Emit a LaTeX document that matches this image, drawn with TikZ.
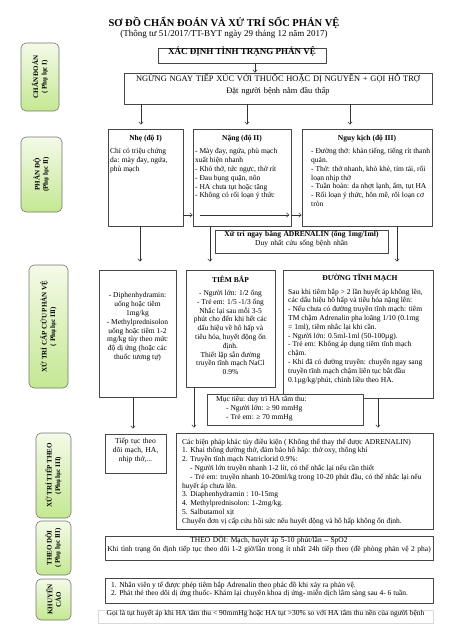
\documentclass[tikz,border=0pt]{standalone}
\usepackage{fontspec}
\setmainfont{Liberation Serif}
\usetikzlibrary{fit,shadows,arrows.meta}
\definecolor{tagtop}{RGB}{244,250,232}
\definecolor{tagbot}{RGB}{196,232,146}
\definecolor{rim}{RGB}{70,70,70}
\newcommand{\fs}[2]{\fontsize{#1}{#2}\selectfont}
\begin{document}
\begin{tikzpicture}[x=1pt, y=-1pt, line join=round, >={Straight Barb[length=2.6pt,width=4.4pt]},
    box/.style={draw=rim, fill=white, line width=.6pt, inner sep=0pt, drop shadow={shadow xshift=1.3pt, shadow yshift=-1.3pt, opacity=.35}},
    tag/.style={draw=black!55, line width=.6pt, rounded corners=5pt, top color=tagtop, bottom color=tagbot, inner sep=0pt},
    tagtxt/.style={rotate=90, align=center, inner sep=0pt, font=\fs{7}{8.4}\bfseries},
    txt/.style={inner sep=0pt, font=\fs{7.5}{8.8}},
    hd/.style={inner sep=0pt, font=\fs{7.5}{8.8}\bfseries},
    arr/.style={->, draw=black!80, line width=.5pt}]
  \useasboundingbox (0,0) rectangle (452,640);
  % title
  \node[font=\fs{10.5}{12}\bfseries] (title) at (224,23) {SƠ ĐỒ CHẨN ĐOÁN VÀ XỬ TRÍ SỐC PHẢN VỆ};
  \node[font=\fs{9}{10}] (sub) at (224,34.5) {(Thông tư 51/2017/TT-BYT ngày 29 tháng 12 năm 2017)};
  % left tags
  \foreach \n/\xa/\ya/\xb/\yb/\t in {
      diag/21/43/59/111/{CHẨN ĐOÁN\\( Phụ lục I)},
      grade/21/137/62/212/{PHÂN ĐỘ\\(Phụ lục II)},
      first/29/265/68/388/{XỬ TRÍ CẤP CỨU PHẢN VỆ\\( Phụ lục III)},
      next/36/433/71/518/{XỬ TRÍ TIẾP THEO\\(Phụ lục III)},
      watch/36/521/71/575/{THEO DÕI\\( Phụ lục III)},
      advice/36/579/71/620/{KHUYẾN\\CÁO}}
  {\node[tag, fit={(\xa,\ya) (\xb,\yb)}] (\n) {};
   \node[tagtxt] (\n-t) at (\n.center) {\t};}
  % diagnosis
  \node[box, fit={(158,48) (326,63)}, font=\fs{9}{10}\bfseries] (ident) {XÁC ĐỊNH TÌNH TRẠNG PHẢN VỆ};
  \node[box, fit={(124,73) (432,104)}, align=center, font=\fs{8.4}{11.5}] (stop) {NGỪNG NGAY TIẾP XÚC VỚI THUỐC HOẶC DỊ NGUYÊN + GỌI HỖ TRỢ\\Đặt người bệnh nằm đầu thấp};
  % grades
  \node[box, fit={(108,129) (183,226)}] (nhe) {};
  \node[box, fit={(193,129) (291,226)}] (nang) {};
  \node[box, fit={(302,129) (432,226)}] (nguy) {};
  \node[hd] (nhe-h) at (145.5,139) {Nhẹ (độ I)};
  \node[hd] (nang-h) at (242,139) {Nặng (độ II)};
  \node[hd] (nguy-h) at (367,138.5) {Nguy kịch (độ III)};
  \node[txt, anchor=north west, align=left] (nhe-t) at (110,148.5) {Chỉ có triệu chứng\\da: mày đay, ngứa,\\phù mạch};
  \node[txt, anchor=north west, align=left] (nang-t) at (195,148.5) {- Mày đay, ngứa, phù mạch\\xuất hiện nhanh\\- Khó thở, tức ngực, thở rít\\- Đau bụng quặn, nôn\\- HA chưa tụt hoặc tăng\\- Không có rối loạn ý thức};
  \node[txt, anchor=north west, align=left] (nguy-t) at (311,148) {- Đường thở: khàn tiếng, tiếng rít thanh\\quản.\\- Thở: thở nhanh, khò khè, tím tái, rối\\loạn nhịp thở\\- Tuần hoàn: da nhợt lạnh, ẩm, tụt HA\\- Rối loạn ý thức, hôn mê, rối loạn cơ\\tròn};
  \node[box, fit={(215,230) (388,253)}, txt, align=center] (adr) {\textbf{Xử trí ngay bằng ADRENALIN (ống 1mg/1ml)}\\Duy nhất cứu sống bệnh nhân};
  % first aid
  \node[box, fit={(99,270) (176,397)}] (diph) {};
  \node[box, fit={(186,270) (275,387)}] (tiem) {};
  \node[box, fit={(283,270) (433,398)}] (tinh) {};
  \node[txt, align=center] (diph-t) at (137.5,327) {- Diphenhydramin:\\uống hoặc tiêm\\1mg/kg\\- Methylprednisolon\\uống hoặc tiêm 1-2\\mg/kg tùy theo mức\\độ dị ứng (hoặc các\\thuốc tương tự)};
  \node[hd] (tiem-h) at (230.5,279) {TIÊM BẮP};
  \node[txt, align=center] (tiem-t) at (230.5,332.5) {- Người lớn: 1/2 ống\\- Trẻ em: 1/5 -1/3 ống\\Nhắc lại sau mỗi 3-5\\phút cho đến khi hết các\\dấu hiệu về hô hấp và\\tiêu hóa, huyết động ổn\\định.\\Thiết lập sẵn đường\\truyền tĩnh mạch NaCl\\0.9\%};
  \node[hd] (tinh-h) at (360,278) {ĐƯỜNG TĨNH MẠCH};
  \node[txt, anchor=north west, align=left] (tinh-t) at (288,288.5) {Sau khi tiêm bắp > 2 lần huyết áp không lên,\\các dấu hiệu hô hấp và tiêu hóa nặng lên:\\- Nếu chưa có đường truyền tĩnh mạch: tiêm\\TM chậm Adrenalin pha loãng 1/10 (0.1mg\\= 1ml), tiêm nhắc lại khi cần.\\- Người lớn: 0.5ml-1ml (50-100µg).\\- Trẻ em: Không áp dụng tiêm tĩnh mạch\\chậm.\\- Khi đã có đường truyền: chuyển ngay sang\\truyền tĩnh mạch chậm liên tục bắt đầu\\0.1µg/kg/phút, chỉnh liều theo HA.};
  \node[box, fit={(207,394) (363,425)}] (muc) {};
  \node[txt, anchor=north west, align=left] (muc-t) at (216,396.5) {Mục tiêu: duy trì HA tâm thu:\\\hspace*{10pt}- Người lớn: ≥ 90 mmHg\\\hspace*{10pt}- Trẻ em: ≥ 70 mmHg};
  % further care
  \node[box, fit={(105,434) (166,473)}, txt, align=center] (tieptuc) {Tiếp tục theo\\dõi mạch, HA,\\nhịp thở,...};
  \node[box, fit={(176,433) (433,529)}] (khac) {};
  \node[txt, anchor=north west, align=left] (khac-t) at (182,438.5) {Các biện pháp khác tùy điều kiện ( Không thể thay thế được ADRENALIN)\\1. Khai thông đường thở, đảm bảo hô hấp: thở oxy, thông khí\\2. Truyền tĩnh mạch Natriclorid 0.9\%:\\\hspace*{8pt}- Người lớn truyền nhanh 1-2 lít, có thể nhắc lại nếu cần thiết\\\hspace*{8pt}- Trẻ em: truyền nhanh 10-20ml/kg trong 10-20 phút đầu, có thể nhắc lại nếu\\huyết áp chưa lên.\\3. Diaphenhydramin : 10-15mg\\4. Methylprednisolon: 1-2mg/kg.\\5. Salbutamol xịt\\Chuyển đơn vị cấp cứu hồi sức nếu huyết động và hô hấp không ổn định.};
  \node[box, fit={(105,536) (433,560)}, txt, align=center] (theodoi) {THEO DÕI: Mạch, huyết áp 5-10 phút/lần – SpO2\\Khi tình trạng ổn định tiếp tục theo dõi 1-2 giờ/lần trong ít nhất 24h tiếp theo (đề phòng phản vệ 2 pha)};
  \node[box, fit={(105,578) (433,603)}] (khuyen) {};
  \node[txt, anchor=north west, align=left] (khuyen-t) at (111,581.5) {1. Nhân viên y tế được phép tiêm bắp Adrenalin theo phác đồ khi xảy ra phản vệ.\\2. Phát thẻ theo dõi dị ứng thuốc- Khám lại chuyên khoa dị ứng- miễn dịch lâm sàng sau 4- 6 tuần.};
  \node[box, draw=black!15, fit={(98,610) (433,623)}, txt] (note) {Gọi là tụt huyết áp khi HA tâm thu < 90mmHg hoặc HA tụt >30\% so với HA tâm thu nền của người bệnh};
  % connectors
  \coordinate (prog) at (200,215);
  \draw[arr] (ident.south -| 255,0) -- (stop.north -| 255,0);
  \foreach \x/\b in {141/nhe, 247/nang, 350/nguy}
    \draw[arr, shorten >=4pt] (stop.south -| \x,0) -- (\b.north -| \x,0);
  \draw[arr] (nhe.east |- prog) -- (nang.west |- prog);
  \draw[arr, shorten >=2pt] (prog) -- (prog -| nang.east);
  \draw[arr] (nang.east |- prog) -- (nguy.west |- prog);
  \foreach \x/\a/\b in {140/nhe/diph, 210/nang/tiem, 397/nguy/tinh}
    \draw[arr, shorten >=8pt] (\a.south -| \x,0) -- (\b.north -| \x,0);
  \foreach \x/\a/\b in {133/diph/tieptuc, 194/tiem/khac, 378/tinh/khac}
    \draw[arr, shorten >=5pt] (\a.south -| \x,0) -- (\b.north -| \x,0);
\end{tikzpicture}
\end{document}
